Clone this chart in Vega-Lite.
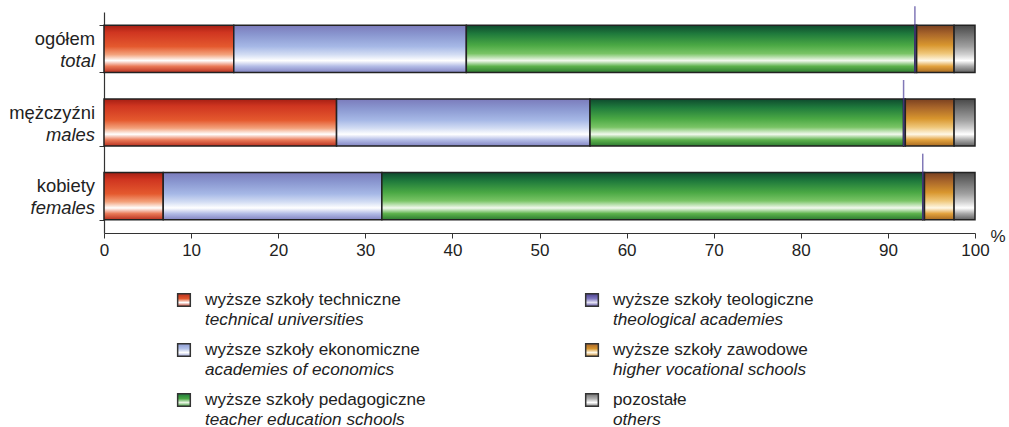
{
  "$schema": "https://vega.github.io/schema/vega-lite/v6.json",
  "padding": {"left": 9, "top": 6, "right": 5, "bottom": 0},
  "bounds": "flush",
  "spacing": 67,
  "config": {
    "font": "Liberation Sans",
    "view": {"stroke": null},
    "axis": {"domainColor": "#333333", "tickColor": "#333333", "labelColor": "#222222"}
  },
  "vconcat": [
    {
      "width": 871,
      "height": 221,
      "layer": [
        {
          "data": {"values": [
            {"grp": "ogółem", "cat": "tech", "order": 1, "value": 14.9},
            {"grp": "ogółem", "cat": "econ", "order": 2, "value": 26.7},
            {"grp": "ogółem", "cat": "ped", "order": 3, "value": 51.5},
            {"grp": "ogółem", "cat": "theo", "order": 4, "value": 0.2},
            {"grp": "ogółem", "cat": "voc", "order": 5, "value": 4.3},
            {"grp": "ogółem", "cat": "other", "order": 6, "value": 2.4},
            {"grp": "mężczyźni", "cat": "tech", "order": 1, "value": 26.7},
            {"grp": "mężczyźni", "cat": "econ", "order": 2, "value": 29.1},
            {"grp": "mężczyźni", "cat": "ped", "order": 3, "value": 36.0},
            {"grp": "mężczyźni", "cat": "theo", "order": 4, "value": 0.2},
            {"grp": "mężczyźni", "cat": "voc", "order": 5, "value": 5.6},
            {"grp": "mężczyźni", "cat": "other", "order": 6, "value": 2.4},
            {"grp": "kobiety", "cat": "tech", "order": 1, "value": 6.8},
            {"grp": "kobiety", "cat": "econ", "order": 2, "value": 25.1},
            {"grp": "kobiety", "cat": "ped", "order": 3, "value": 62.1},
            {"grp": "kobiety", "cat": "theo", "order": 4, "value": 0.2},
            {"grp": "kobiety", "cat": "voc", "order": 5, "value": 3.4},
            {"grp": "kobiety", "cat": "other", "order": 6, "value": 2.4}
          ]},
          "transform": [
            {"stack": "value", "groupby": ["grp"], "sort": [{"field": "order", "order": "ascending"}], "as": ["v0", "v1"]}
          ],
          "layer": [
            {
              "mark": {"type": "bar", "stroke": "#222222", "strokeWidth": 1.5},
              "encoding": {
                "y": {
                  "field": "grp", "type": "nominal",
                  "sort": ["ogółem", "mężczyźni", "kobiety"],
                  "scale": {"paddingInner": 0.36, "paddingOuter": 0.18},
                  "axis": {"title": null, "labels": false, "tickBand": "extent", "tickSize": 5, "domainWidth": 1.2}
                },
                "x": {
                  "field": "v0", "type": "quantitative",
                  "scale": {"domain": [0, 100], "nice": false},
                  "axis": {
                    "values": [0, 10, 20, 30, 40, 50, 60, 70, 80, 90, 100],
                    "tickSize": 5, "labelFontSize": 17, "labelPadding": 4, "labelFlush": false, "grid": false,
                    "domainWidth": 1.2,
                    "title": "%", "titleFontSize": 17, "titleFontWeight": "normal", "titleColor": "#222222",
                    "titleX": 886, "titleY": 3, "titleAlign": "left", "titleBaseline": "middle", "titleAngle": 0
                  }
                },
                "x2": {"field": "v1"},
                "color": {
                  "condition": [
                    {"test": "datum.cat === 'tech'", "value": {"gradient": "linear", "x1": 0, "y1": 0, "x2": 0, "y2": 1, "stops": [
                      {"offset": 0, "color": "#a51f14"}, {"offset": 0.15, "color": "#cf3520"}, {"offset": 0.45, "color": "#e4592e"},
                      {"offset": 0.62, "color": "#f3a27c"}, {"offset": 0.75, "color": "#ffffff"}, {"offset": 0.87, "color": "#ea7a58"}, {"offset": 1, "color": "#b8301f"}]}},
                    {"test": "datum.cat === 'econ'", "value": {"gradient": "linear", "x1": 0, "y1": 0, "x2": 0, "y2": 1, "stops": [
                      {"offset": 0, "color": "#7b7bbb"}, {"offset": 0.2, "color": "#8a97d0"}, {"offset": 0.45, "color": "#a6b8e6"},
                      {"offset": 0.62, "color": "#d2dcf3"}, {"offset": 0.75, "color": "#ffffff"}, {"offset": 0.87, "color": "#b3bce6"}, {"offset": 1, "color": "#8284c2"}]}},
                    {"test": "datum.cat === 'ped'", "value": {"gradient": "linear", "x1": 0, "y1": 0, "x2": 0, "y2": 1, "stops": [
                      {"offset": 0, "color": "#0e4a2e"}, {"offset": 0.18, "color": "#1f7a3c"}, {"offset": 0.42, "color": "#4aa844"},
                      {"offset": 0.6, "color": "#79c465"}, {"offset": 0.75, "color": "#f2f9ee"}, {"offset": 0.87, "color": "#5db24c"}, {"offset": 1, "color": "#2d7a30"}]}},
                    {"test": "datum.cat === 'theo'", "value": {"gradient": "linear", "x1": 0, "y1": 0, "x2": 0, "y2": 1, "stops": [
                      {"offset": 0, "color": "#4a3f8e"}, {"offset": 0.4, "color": "#6f67b3"}, {"offset": 0.75, "color": "#d8d5ee"}, {"offset": 1, "color": "#5a50a0"}]}},
                    {"test": "datum.cat === 'voc'", "value": {"gradient": "linear", "x1": 0, "y1": 0, "x2": 0, "y2": 1, "stops": [
                      {"offset": 0, "color": "#7a4020"}, {"offset": 0.18, "color": "#a8652a"}, {"offset": 0.42, "color": "#d8962e"},
                      {"offset": 0.6, "color": "#efc77a"}, {"offset": 0.75, "color": "#fff8e6"}, {"offset": 0.87, "color": "#e2a23e"}, {"offset": 1, "color": "#a86a20"}]}}
                  ],
                  "value": {"gradient": "linear", "x1": 0, "y1": 0, "x2": 0, "y2": 1, "stops": [
                    {"offset": 0, "color": "#484848"}, {"offset": 0.2, "color": "#707070"}, {"offset": 0.45, "color": "#a0a0a0"},
                    {"offset": 0.62, "color": "#d0d0d0"}, {"offset": 0.75, "color": "#ffffff"}, {"offset": 0.87, "color": "#a8a8a8"}, {"offset": 1, "color": "#606060"}]}
                }
              }
            },
            {
              "transform": [{"filter": "datum.cat === 'theo'"}],
              "mark": {"type": "tick", "color": "#4b3f98", "thickness": 1.5, "size": 66, "yOffset": -9.5},
              "encoding": {
                "y": {"field": "grp", "type": "nominal", "sort": ["ogółem", "mężczyźni", "kobiety"]},
                "x": {"field": "v0", "type": "quantitative"}
              }
            }
          ]
        },
        {
          "data": {"values": [
            {"grp": "ogółem", "en": "total"},
            {"grp": "mężczyźni", "en": "males"},
            {"grp": "kobiety", "en": "females"}
          ]},
          "layer": [
            {
              "mark": {"type": "text", "align": "right", "baseline": "middle", "dx": -9, "dy": -10, "fontSize": 18.4, "color": "#222222"},
              "encoding": {
                "y": {"field": "grp", "type": "nominal", "sort": ["ogółem", "mężczyźni", "kobiety"]},
                "x": {"datum": 0, "type": "quantitative"},
                "text": {"field": "grp"}
              }
            },
            {
              "mark": {"type": "text", "align": "right", "baseline": "middle", "dx": -9, "dy": 12, "fontSize": 18.4, "fontStyle": "italic", "color": "#222222"},
              "encoding": {
                "y": {"field": "grp", "type": "nominal", "sort": ["ogółem", "mężczyźni", "kobiety"]},
                "x": {"datum": 0, "type": "quantitative"},
                "text": {"field": "en"}
              }
            }
          ]
        }
      ]
    },
    {
      "width": 568,
      "height": 100,
      "data": {"values": [
        {"cat": "tech", "col": 1, "row": 1, "pl": "wyższe szkoły techniczne", "en": "technical universities"},
        {"cat": "econ", "col": 1, "row": 2, "pl": "wyższe szkoły ekonomiczne", "en": "academies of economics"},
        {"cat": "ped", "col": 1, "row": 3, "pl": "wyższe szkoły pedagogiczne", "en": "teacher education schools"},
        {"cat": "theo", "col": 2, "row": 1, "pl": "wyższe szkoły teologiczne", "en": " theological academies"},
        {"cat": "voc", "col": 2, "row": 2, "pl": "wyższe szkoły zawodowe", "en": "higher vocational schools"},
        {"cat": "other", "col": 2, "row": 3, "pl": "pozostałe", "en": "others"}
      ]},
      "encoding": {
        "x": {"field": "col", "type": "ordinal", "scale": {"type": "point", "padding": 0.196}, "axis": null},
        "y": {"field": "row", "type": "ordinal", "scale": {"type": "point", "padding": 0}, "axis": null}
      },
      "layer": [
        {
          "mark": {"type": "point", "shape": "square", "size": 160, "filled": true, "stroke": "#333333", "strokeWidth": 1.5, "opacity": 1},
          "encoding": {
            "fill": {
              "condition": [
                {"test": "datum.cat === 'tech'", "value": {"gradient": "linear", "x1": 0, "y1": 0, "x2": 0, "y2": 1, "stops": [
                  {"offset": 0, "color": "#b8301f"}, {"offset": 0.4, "color": "#e4592e"}, {"offset": 0.7, "color": "#ffffff"}, {"offset": 1, "color": "#c0402a"}]}},
                {"test": "datum.cat === 'econ'", "value": {"gradient": "linear", "x1": 0, "y1": 0, "x2": 0, "y2": 1, "stops": [
                  {"offset": 0, "color": "#8c9bd3"}, {"offset": 0.4, "color": "#b3c2ea"}, {"offset": 0.7, "color": "#ffffff"}, {"offset": 1, "color": "#9aa4d8"}]}},
                {"test": "datum.cat === 'ped'", "value": {"gradient": "linear", "x1": 0, "y1": 0, "x2": 0, "y2": 1, "stops": [
                  {"offset": 0, "color": "#1f7a3c"}, {"offset": 0.4, "color": "#4aa844"}, {"offset": 0.7, "color": "#e8f5e2"}, {"offset": 1, "color": "#3d9a3c"}]}},
                {"test": "datum.cat === 'theo'", "value": {"gradient": "linear", "x1": 0, "y1": 0, "x2": 0, "y2": 1, "stops": [
                  {"offset": 0, "color": "#4a3f8e"}, {"offset": 0.4, "color": "#8079c0"}, {"offset": 0.7, "color": "#e4e2f4"}, {"offset": 1, "color": "#5a50a0"}]}},
                {"test": "datum.cat === 'voc'", "value": {"gradient": "linear", "x1": 0, "y1": 0, "x2": 0, "y2": 1, "stops": [
                  {"offset": 0, "color": "#a8652a"}, {"offset": 0.4, "color": "#d8962e"}, {"offset": 0.7, "color": "#fff8e6"}, {"offset": 1, "color": "#c88a30"}]}}
              ],
              "value": {"gradient": "linear", "x1": 0, "y1": 0, "x2": 0, "y2": 1, "stops": [
                {"offset": 0, "color": "#707070"}, {"offset": 0.4, "color": "#b0b0b0"}, {"offset": 0.7, "color": "#ffffff"}, {"offset": 1, "color": "#808080"}]}
            }
          }
        },
        {
          "mark": {"type": "text", "align": "left", "baseline": "middle", "dx": 21, "dy": 0, "fontSize": 17.2, "color": "#222222"},
          "encoding": {"text": {"field": "pl"}}
        },
        {
          "mark": {"type": "text", "align": "left", "baseline": "middle", "dx": 21, "dy": 20, "fontSize": 17.2, "fontStyle": "italic", "color": "#222222"},
          "encoding": {"text": {"field": "en"}}
        }
      ]
    }
  ]
}
